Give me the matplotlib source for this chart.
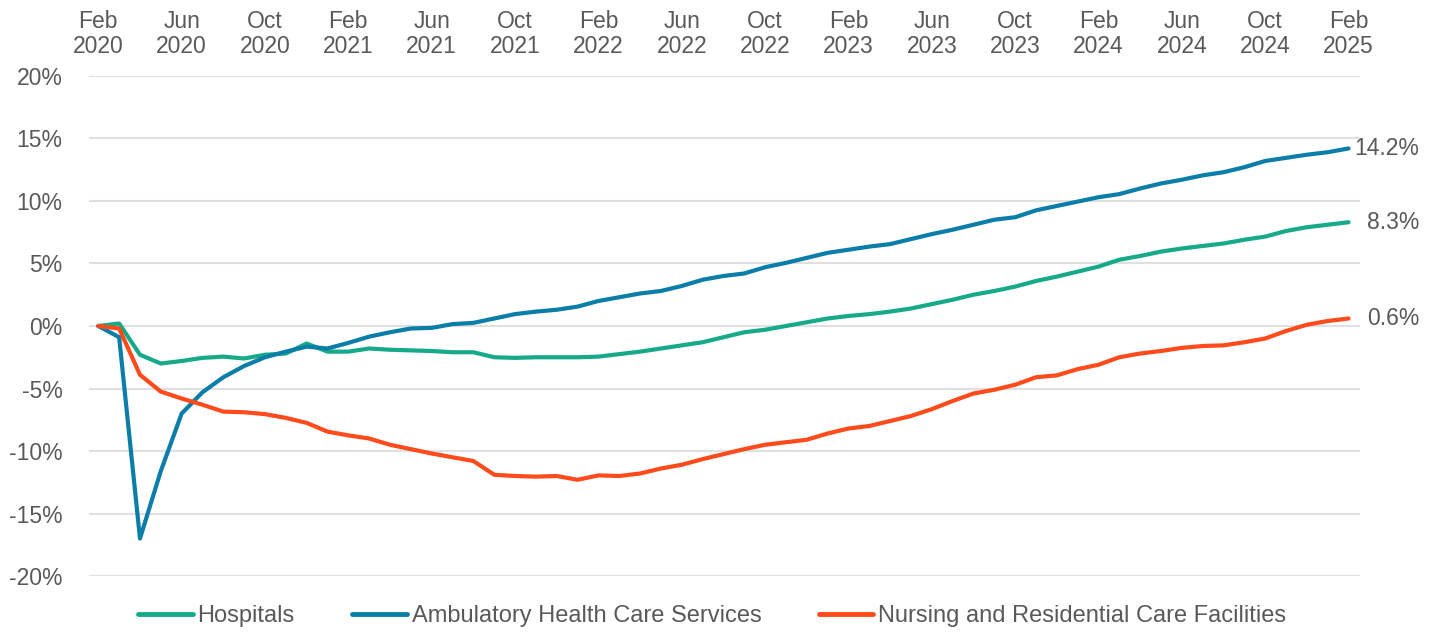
import matplotlib as mpl
import matplotlib.pyplot as plt
import numpy as np
import pandas as pd


# monthly, Feb 2020 .. Feb 2025, % change since Feb 2020
months = pd.date_range('2020-02-01', '2025-02-01', freq='MS')

hospitals = [0, 0.2, -2.3, -3.0, -2.8, -2.55, -2.45, -2.6, -2.3, -2.2, -1.4,
             -2.05, -2.05, -1.8, -1.9, -1.95, -2.0, -2.1, -2.1, -2.5, -2.55, -2.5, -2.5,
             -2.5, -2.45, -2.25, -2.05, -1.8, -1.55, -1.3, -0.9, -0.5, -0.3, 0.0, 0.3,
             0.6, 0.8, 0.95, 1.15, 1.4, 1.75, 2.1, 2.5, 2.8, 3.15, 3.6, 3.95,
             4.35, 4.75, 5.3, 5.6, 5.95, 6.2, 6.4, 6.6, 6.9, 7.15, 7.6, 7.9,
             8.1, 8.3]

ambulatory = [0, -0.9, -17.0, -11.6, -7.0, -5.3, -4.1, -3.2, -2.5, -2.05, -1.65,
              -1.8, -1.35, -0.85, -0.5, -0.2, -0.15, 0.15, 0.25, 0.6, 0.95, 1.15, 1.3,
              1.55, 2.0, 2.3, 2.6, 2.8, 3.2, 3.7, 4.0, 4.2, 4.7, 5.05, 5.45,
              5.85, 6.1, 6.35, 6.55, 6.95, 7.35, 7.7, 8.1, 8.5, 8.7, 9.25, 9.6,
              9.95, 10.3, 10.55, 11.0, 11.4, 11.7, 12.05, 12.3, 12.7, 13.2, 13.45, 13.7,
              13.9, 14.2]

nursing = [0, -0.2, -3.9, -5.25, -5.8, -6.3, -6.85, -6.9, -7.05, -7.35, -7.75,
           -8.45, -8.75, -9.0, -9.5, -9.85, -10.2, -10.5, -10.8, -11.9, -12.0, -12.05, -12.0,
           -12.3, -11.95, -12.0, -11.8, -11.4, -11.1, -10.65, -10.25, -9.85, -9.5, -9.3, -9.1,
           -8.6, -8.2, -8.0, -7.6, -7.2, -6.65, -6.0, -5.4, -5.1, -4.7, -4.1, -3.95,
           -3.45, -3.1, -2.5, -2.2, -2.0, -1.75, -1.6, -1.55, -1.3, -1.0, -0.4, 0.1,
           0.4, 0.6]

end_labels = ['8.3%', '14.2%', '0.6%']
series_names = ['Hospitals', 'Ambulatory Health Care Services',
                'Nursing and Residential Care Facilities']
colors = ['#16aa8b', '#0a7ea8', '#ff4b1c']

y_ticks = [-20, -15, -10, -5, 0, 5, 10, 15, 20]
x_tick_labels = ['Feb\n2020', 'Jun\n2020', 'Oct\n2020', 'Feb\n2021', 'Jun\n2021',
                 'Oct\n2021', 'Feb\n2022', 'Jun\n2022', 'Oct\n2022', 'Feb\n2023',
                 'Jun\n2023', 'Oct\n2023', 'Feb\n2024', 'Jun\n2024', 'Oct\n2024',
                 'Feb\n2025']

TXT = '#595959'


def main():
    mpl.rcParams['font.family'] = ['Liberation Sans', 'DejaVu Sans']
    fig = plt.figure(figsize=(14.39, 6.33), dpi=100)
    ax = fig.add_axes([0.0618, 0.090, 0.8833, 0.790])

    x = np.arange(len(months))
    for vals, name, c in zip([hospitals, ambulatory, nursing], series_names, colors):
        ax.plot(x, vals, color=c, linewidth=3, label=name,
                solid_capstyle='round', solid_joinstyle='round')

    for vals, lab in zip([hospitals, ambulatory, nursing], end_labels):
        ax.annotate(lab, xy=(x[-1], vals[-1]), xytext=(51, 0),
                    textcoords='offset points', ha='right', va='center',
                    fontsize=16.5, color=TXT, annotation_clip=False)

    ax.set_xlim(-0.45, 60.55)
    ax.set_ylim(-20, 20)
    ax.set_yticks(y_ticks)
    ax.set_yticklabels(['{}%'.format(v) for v in y_ticks])
    ax.yaxis.grid(True, color='#e0e0e0', linewidth=1.5)
    ax.set_axisbelow(True)

    ax.xaxis.tick_top()
    ax.set_xticks(x[::4])
    ax.set_xticklabels(x_tick_labels, fontsize=16.5, linespacing=1.12)
    ax.tick_params(axis='x', length=0, pad=13, colors=TXT)
    ax.tick_params(axis='y', length=0, pad=19, labelsize=16.5, colors=TXT)
    for s in ax.spines.values():
        s.set_visible(False)

    leg = fig.legend(loc='center', bbox_to_anchor=(0.495, 0.027), ncol=3,
                     frameon=False, handlelength=2.3, handletextpad=0.2,
                     columnspacing=2.45, prop={'size': 17})
    for t in leg.get_texts():
        t.set_color(TXT)
    for h in leg.get_lines():
        h.set_linewidth(3.5)

    fig.savefig('out.png', dpi=100)


if __name__ == '__main__':
    main()
